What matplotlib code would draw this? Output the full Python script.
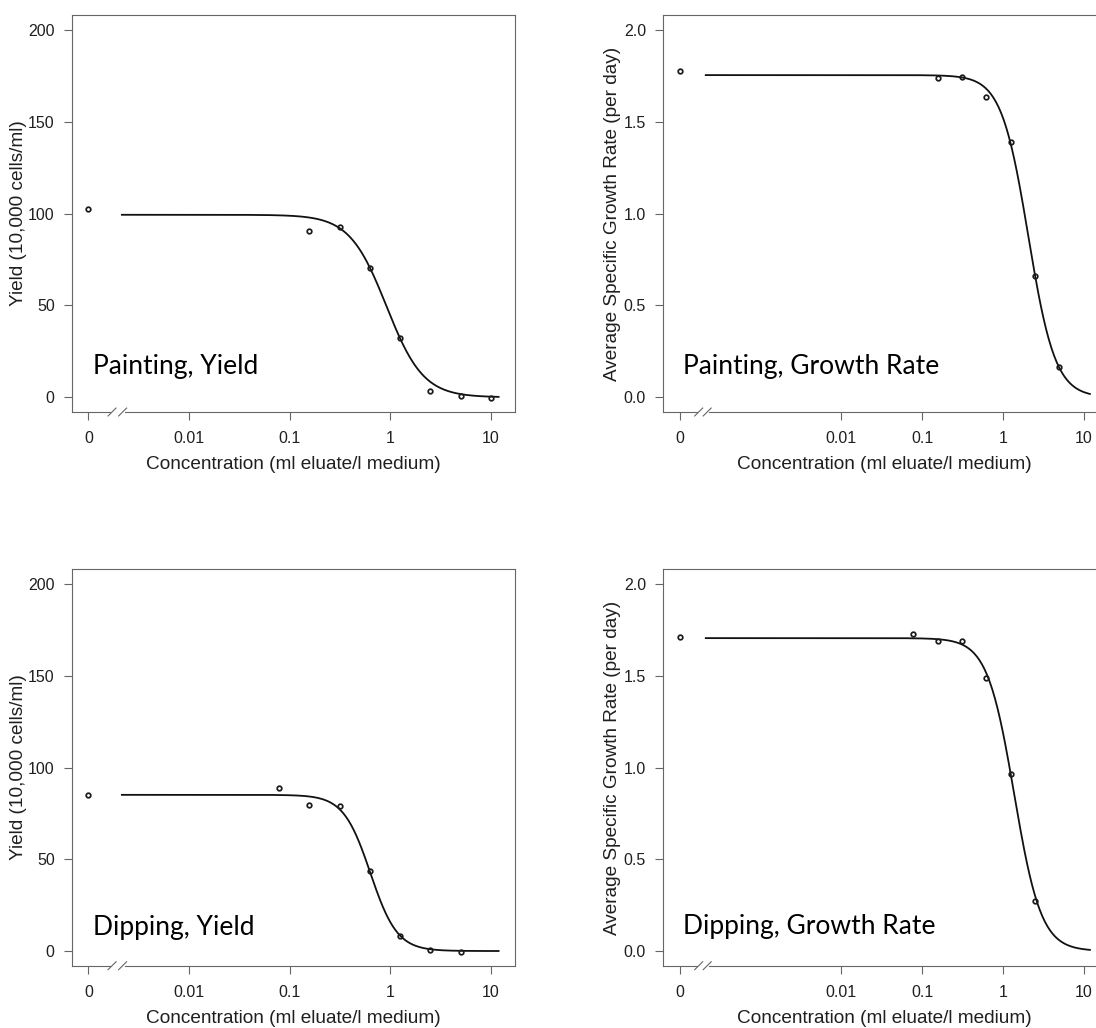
import matplotlib
matplotlib.use("Agg")
import matplotlib.pyplot as plt
import numpy as np
from matplotlib.ticker import NullLocator
from matplotlib.transforms import blended_transform_factory

plt.rcParams['font.family'] = ['Liberation Sans', 'DejaVu Sans']

# concentrations in ml eluate/l medium (0 = control)
conc_paint_yield = [0, 0.156, 0.3125, 0.625, 1.25, 2.5, 5, 10]
yield_paint = [102.4, 90.7, 92.4, 70.5, 32.4, 3.3, 0.5, -0.4]

conc_paint_rate = [0, 0.156, 0.3125, 0.625, 1.25, 2.5, 5]
rate_paint = [1.773, 1.736, 1.742, 1.636, 1.387, 0.662, 0.167]

conc_dip_yield = [0, 0.078, 0.156, 0.3125, 0.625, 1.25, 2.5, 5]
yield_dip = [85.0, 89.0, 79.3, 78.8, 43.4, 8.4, 0.5, -0.4]

conc_dip_rate = [0, 0.078, 0.156, 0.3125, 0.625, 1.25, 2.5]
rate_dip = [1.712, 1.730, 1.690, 1.690, 1.488, 0.964, 0.275]

# log-logistic fits: upper limit, EC50, slope
fit_paint_yield = [99.3, 0.914, 2.37]
fit_paint_rate = [1.753, 2.06, 2.6]
fit_dip_yield = [85.1, 0.633, 3.25]
fit_dip_rate = [1.705, 1.38, 2.6]

x_tick_labels = ['0', '0.01', '0.1', '1', '10']
yield_ticks = [0, 50, 100, 150, 200]
rate_ticks = [0.0, 0.5, 1.0, 1.5, 2.0]

GRIS = '#666666'
TEXTO = '#1f1f1f'
W, H = 1096, 1028


def log_logistic(x, top, ec50, slope):
    return top / (1 + (x / ec50) ** slope)


def dibujar_panel(ax, conc, valores, ajuste, cero, inicio, yticks, ylabel,
                  titulo, pos_titulo, ylab_x):
    fin = 11.9
    lo, hi = np.log10(cero), np.log10(fin)
    span = hi - lo
    ax.set_xscale('log')
    ax.set_xlim(10 ** (lo - 0.04 * span), 10 ** (hi + 0.04 * span))
    yr = yticks[-1] - yticks[0]
    ax.set_ylim(yticks[0] - 0.04 * yr, yticks[-1] + 0.04 * yr)

    # fitted curve and observations
    xc = np.logspace(np.log10(inicio), hi, 300)
    ax.plot(xc, log_logistic(xc, *ajuste), color='#111111', lw=1.3)
    xp = [cero if c == 0 else c for c in conc]
    ax.plot(xp, valores, 'o', ms=3.3, mfc='none', mec='#1a1a1a', mew=1.25)

    ax.set_xticks([cero, 0.01, 0.1, 1, 10])
    ax.set_xticklabels(x_tick_labels)
    ax.xaxis.set_minor_locator(NullLocator())
    ax.set_yticks(yticks)
    if yticks[-1] > 10:
        ax.set_yticklabels([str(int(t)) for t in yticks])
    else:
        ax.set_yticklabels(['%.1f' % t for t in yticks])

    for s in ['left', 'right', 'top']:
        ax.spines[s].set_color(GRIS)
        ax.spines[s].set_linewidth(0.8)
    ax.spines['bottom'].set_visible(False)
    ax.tick_params(axis='both', direction='out', length=5.5, width=0.8,
                   color=GRIS, labelcolor=TEXTO, labelsize=11.5)
    ax.tick_params(axis='x', pad=8.5)
    ax.tick_params(axis='y', pad=7)

    # broken bottom axis between control and first dose
    tr = blended_transform_factory(ax.transData, ax.transAxes)
    x0, x1 = ax.get_xlim()
    g0, g1 = 10 ** (lo + 0.21), 10 ** (lo + 0.36)
    ax.plot([x0, g0], [0, 0], color=GRIS, lw=0.8, transform=tr, clip_on=False)
    ax.plot([g1, x1], [0, 0], color=GRIS, lw=0.8, transform=tr, clip_on=False)
    w = 0.009 * (np.log10(x1) - np.log10(x0))
    for c in [lo + 0.235, lo + 0.34]:
        ax.plot([10 ** (c - w), 10 ** (c + w)], [-0.01, 0.01], color=GRIS,
                lw=0.8, transform=tr, clip_on=False)

    ax.set_xlabel('Concentration (ml eluate/l medium)', fontsize=13.7,
                  color=TEXTO, va='center')
    ax.xaxis.set_label_coords(0.5, -0.1325)
    ax.set_ylabel(ylabel, fontsize=13.7, color=TEXTO, va='center')
    ax.yaxis.set_label_coords(ylab_x, 0.5)

    ax.text(pos_titulo[0], pos_titulo[1], titulo, transform=ax.transAxes,
            fontsize=19, family=['Lato', 'DejaVu Sans'], color='black',
            va='baseline', ha='left')


fig = plt.figure(figsize=(W / 100, H / 100), dpi=100)

def ejes(left, top, bottom):
    return fig.add_axes([left / W, 1 - bottom / H, 443 / W, (bottom - top) / H])

ax1 = ejes(72, 15, 412)
ax2 = ejes(663.3, 15, 412)
ax3 = ejes(72, 569.3, 965.7)
ax4 = ejes(663.3, 569.3, 965.7)

yl_yield = 'Yield (10,000 cells/ml)'
yl_rate = 'Average Specific Growth Rate (per day)'

dibujar_panel(ax1, conc_paint_yield, yield_paint, fit_paint_yield, 1e-3, 0.00215,
              yield_ticks, yl_yield, 'Painting, Yield', (0.047, 0.095), -0.1208)
dibujar_panel(ax2, conc_paint_rate, rate_paint, fit_paint_rate, 1e-4, 0.00021,
              rate_ticks, yl_rate, 'Painting, Growth Rate', (0.045, 0.095), -0.1147)
dibujar_panel(ax3, conc_dip_yield, yield_dip, fit_dip_yield, 1e-3, 0.00215,
              yield_ticks, yl_yield, 'Dipping, Yield', (0.048, 0.0775), -0.1208)
dibujar_panel(ax4, conc_dip_rate, rate_dip, fit_dip_rate, 1e-4, 0.00021,
              rate_ticks, yl_rate, 'Dipping, Growth Rate', (0.045, 0.08), -0.1147)

fig.savefig('out.png', dpi=100)
